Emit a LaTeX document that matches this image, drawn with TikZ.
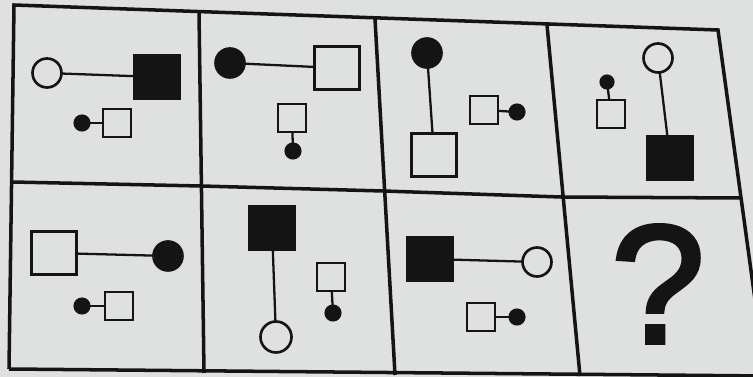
\documentclass[tikz,border=0pt]{standalone}
\usepackage{fontspec}
\setmainfont{Liberation Sans}
\newfontfamily\askfont[FakeBold=2.5]{Liberation Sans}
\usepackage{tikz}
\usetikzlibrary{positioning}

\definecolor{paper}{RGB}{223,225,224}
\definecolor{ink}{RGB}{20,20,20}

\begin{document}
\begin{tikzpicture}[
		x=0.02cm, y=-0.02cm,
		grid/.style={
			draw=ink,
			line width=2pt,
			line join=miter
		},
		fig/.style={
			draw=ink,
			line width=1.5pt,
			inner sep=0pt,
			outer sep=0pt
		},
		bigsq/.style={fig, rectangle, minimum width=0.9cm, minimum height=0.85cm},
		bigsqfill/.style={bigsq, fill=ink},
		bigcirc/.style={fig, circle, fill=paper, minimum size=0.58cm},
		bigcircfill/.style={bigcirc, fill=ink},
		smallsq/.style={fig, rectangle, minimum size=0.56cm},
		smalldot/.style={fig, circle, fill=ink, minimum size=0.29cm},
		link/.style={
			draw=ink,
			line width=1.3pt
		}
		]
		
		\fill[paper] (0,0) rectangle (753,377);
		\useasboundingbox (0,0) rectangle (753,377);
		
		% frame and cells
		\begin{scope}
			\clip (0,0) rectangle (753,377);
			\draw[grid] (9,369) -- (14,5) -- (718,30) -- (766,380);
			\draw[grid] (9,369) -- (766,376);
			\draw[grid] (12,182) -- (201,186) -- (383,191) -- (561,197) -- (741,198);
			\draw[grid] (199,12) -- (204,373);
			\draw[grid] (375,19) -- (395,375);
			\draw[grid] (547,25) -- (580,376);
		\end{scope}
		
		% top row
		\node[bigcirc] (ring1) at (47,73) {};
		\node[bigsqfill] (box1) at (157,77) {};
		\node[smalldot] (dot1) at (82,123) {};
		\node[smallsq] (sq1) at (117,123) {};
		
		\node[bigcircfill] (ball2) at (230,63) {};
		\node[bigsq] (box2) at (337,68) {};
		\node[smallsq] (sq2) at (292,118) {};
		\node[smalldot] (dot2) at (293,151) {};
		
		\node[bigcircfill] (ball3) at (427,53) {};
		\node[bigsq] (box3) at (434,155) {};
		\node[smallsq] (sq3) at (484,110) {};
		\node[smalldot] (dot3) at (517,112) {};
		
		\node[smalldot, minimum size=0.25cm] (dot4) at (607,82) {};
		\node[smallsq] (sq4) at (611,114) {};
		\node[bigcirc] (ring4) at (658,58) {};
		\node[bigsqfill] (box4) at (670,158) {};
		
		% bottom row
		\node[bigsq] (box5) at (54,253) {};
		\node[bigcircfill] (ball5) at (168,256) {};
		\node[smalldot] (dot5) at (82,306) {};
		\node[smallsq] (sq5) at (119,306) {};
		
		\node[bigsqfill] (box6) at (272,228) {};
		\node[bigcirc, minimum size=0.62cm] (ring6) at (276,337) {};
		\node[smallsq] (sq6) at (331,277) {};
		\node[smalldot] (dot6) at (333,313) {};
		
		\node[bigsqfill] (box7) at (430,259) {};
		\node[bigcirc] (ring7) at (537,262) {};
		\node[smallsq] (sq7) at (481,317) {};
		\node[smalldot] (dot7) at (517,317) {};
		
		\node[font=\askfont\fontsize{96}{96}\selectfont, text=ink, inner sep=0pt] (ask) at (658,284) {?};
		
		\draw[link] (ring1) -- (box1);
		\draw[link] (dot1) -- (sq1);
		\draw[link] (ball2) -- (box2);
		\draw[link] (sq2) -- (dot2);
		\draw[link] (ball3) -- (box3);
		\draw[link] (sq3) -- (dot3);
		\draw[link] (dot4) -- (sq4);
		\draw[link] (ring4) -- (box4);
		\draw[link] (box5) -- (ball5);
		\draw[link] (dot5) -- (sq5);
		\draw[link] (box6) -- (ring6);
		\draw[link] (sq6) -- (dot6);
		\draw[link] (box7) -- (ring7);
		\draw[link] (sq7) -- (dot7);
		
	\end{tikzpicture}
\end{document}
